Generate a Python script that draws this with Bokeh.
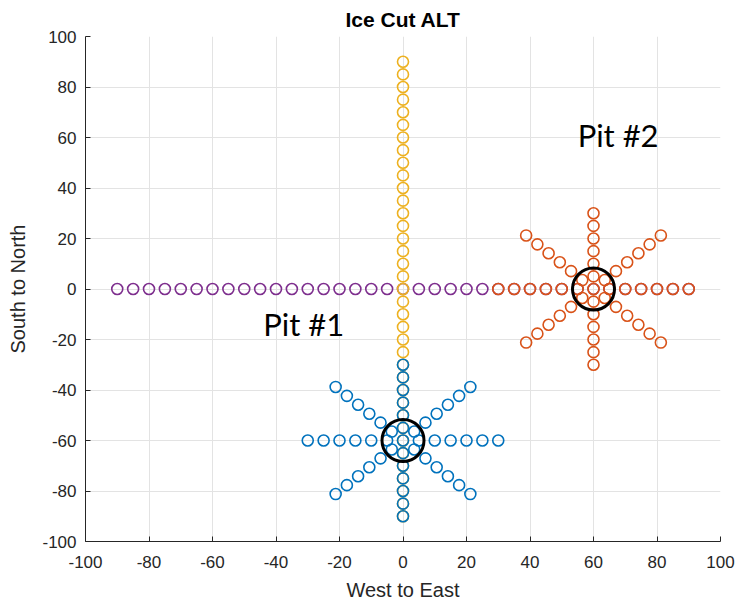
import numpy as np
from bokeh.plotting import figure
from bokeh.models import FixedTicker, Range1d
from bokeh.core.properties import value
from bokeh.embed import file_html
from bokeh.resources import INLINE

# ---- data ----
title = "Ice Cut ALT"
x_label = "West to East"
y_label = "South to North"
ticks = [-100, -80, -60, -40, -20, 0, 20, 40, 60, 80, 100]
tick_labels = ["-100", "-80", "-60", "-40", "-20", "0", "20", "40", "60", "80", "100"]

# purple line along West-East (y = 0)
purple_x = list(range(-90, 91, 5))
purple_y = [0] * len(purple_x)
# yellow line along South-North (x = 0)
yellow_y = list(range(-90, 91, 5))
yellow_x = [0] * len(yellow_y)

# stars: centre, arm radii, arm angles (deg)
pit1_center = (0, -60)
pit2_center = (60, 0)
arm_radii = [5, 10, 15, 20, 25, 30]
arm_angles = [0, 45, 90, 135, 180, 225, 270, 315]

pit_labels = ["Pit #1", "Pit #2"]
pit_label_x = [-44, 55]
pit_label_y = [-14, 61]

BLUE = "#0072BD"
ORANGE = "#D95319"
YELLOW = "#EDB120"
PURPLE = "#7E2F8E"


def star(center):
    xs, ys = [center[0]], [center[1]]
    for a in arm_angles:
        t = np.deg2rad(a)
        for r in arm_radii:
            xs.append(center[0] + r * np.cos(t))
            ys.append(center[1] + r * np.sin(t))
    return xs, ys


b_x, b_y = star(pit1_center)
o_x, o_y = star(pit2_center)

p = figure(width=742, height=605, output_backend="svg", toolbar_location=None,
           x_range=Range1d(-100, 100), y_range=Range1d(-100, 100),
           min_border_left=85, min_border_right=22, min_border_top=35,
           min_border_bottom=64, title=title)
p.outline_line_color = None
p.background_fill_color = "white"
p.border_fill_color = "white"

p.title.align = "center"
p.title.text_font = "Liberation Sans"
p.title.text_font_size = "21px"
p.title.text_font_style = "bold"
p.title.text_color = "#000000"
p.title.offset = 0
p.title.standoff = 11

overrides = {t: l for t, l in zip(ticks, tick_labels)}
for ax in (p.xaxis[0], p.yaxis[0]):
    ax.ticker = FixedTicker(ticks=ticks)
    ax.major_label_overrides = overrides
    ax.minor_tick_line_color = None
    ax.major_tick_in = 5
    ax.major_tick_out = 0
    ax.axis_line_color = "#262626"
    ax.major_tick_line_color = "#262626"
    ax.major_label_text_font = "Liberation Sans"
    ax.major_label_text_font_size = "17px"
    ax.major_label_text_color = "#262626"
    ax.axis_label_text_font = "Liberation Sans"
    ax.axis_label_text_font_size = "20px"
    ax.axis_label_text_font_style = "normal"
    ax.axis_label_text_color = "#262626"

p.xaxis.axis_label = x_label
p.yaxis.axis_label = y_label
p.xaxis.major_label_standoff = 14
p.yaxis.major_label_standoff = 9
p.xaxis.axis_label_standoff = 8
p.yaxis.axis_label_standoff = 10

p.xgrid.ticker = FixedTicker(ticks=ticks)
p.ygrid.ticker = FixedTicker(ticks=ticks)
p.grid.grid_line_color = "#E3E3E3"
p.grid.grid_line_width = 1

msize = 11
lw = 1.6
p.scatter(purple_x, purple_y, marker="circle", size=msize, fill_color=None,
          line_color=PURPLE, line_width=lw)
p.scatter(o_x, o_y, marker="circle", size=msize, fill_color=None,
          line_color=ORANGE, line_width=lw)
p.scatter(yellow_x, yellow_y, marker="circle", size=msize, fill_color=None,
          line_color=YELLOW, line_width=lw)
p.scatter(b_x, b_y, marker="circle", size=msize, fill_color=None,
          line_color=BLUE, line_width=lw)

p.scatter([pit1_center[0], pit2_center[0]], [pit1_center[1], pit2_center[1]],
          marker="circle", size=42, fill_color=None, line_color="black",
          line_width=3)

p.text(x=pit_label_x, y=pit_label_y, text=pit_labels, text_align="left",
       text_baseline="middle", text_font=value("Lato"), text_font_size="31px",
       text_color="black")

open("out.html", "w").write(file_html(p, INLINE))
